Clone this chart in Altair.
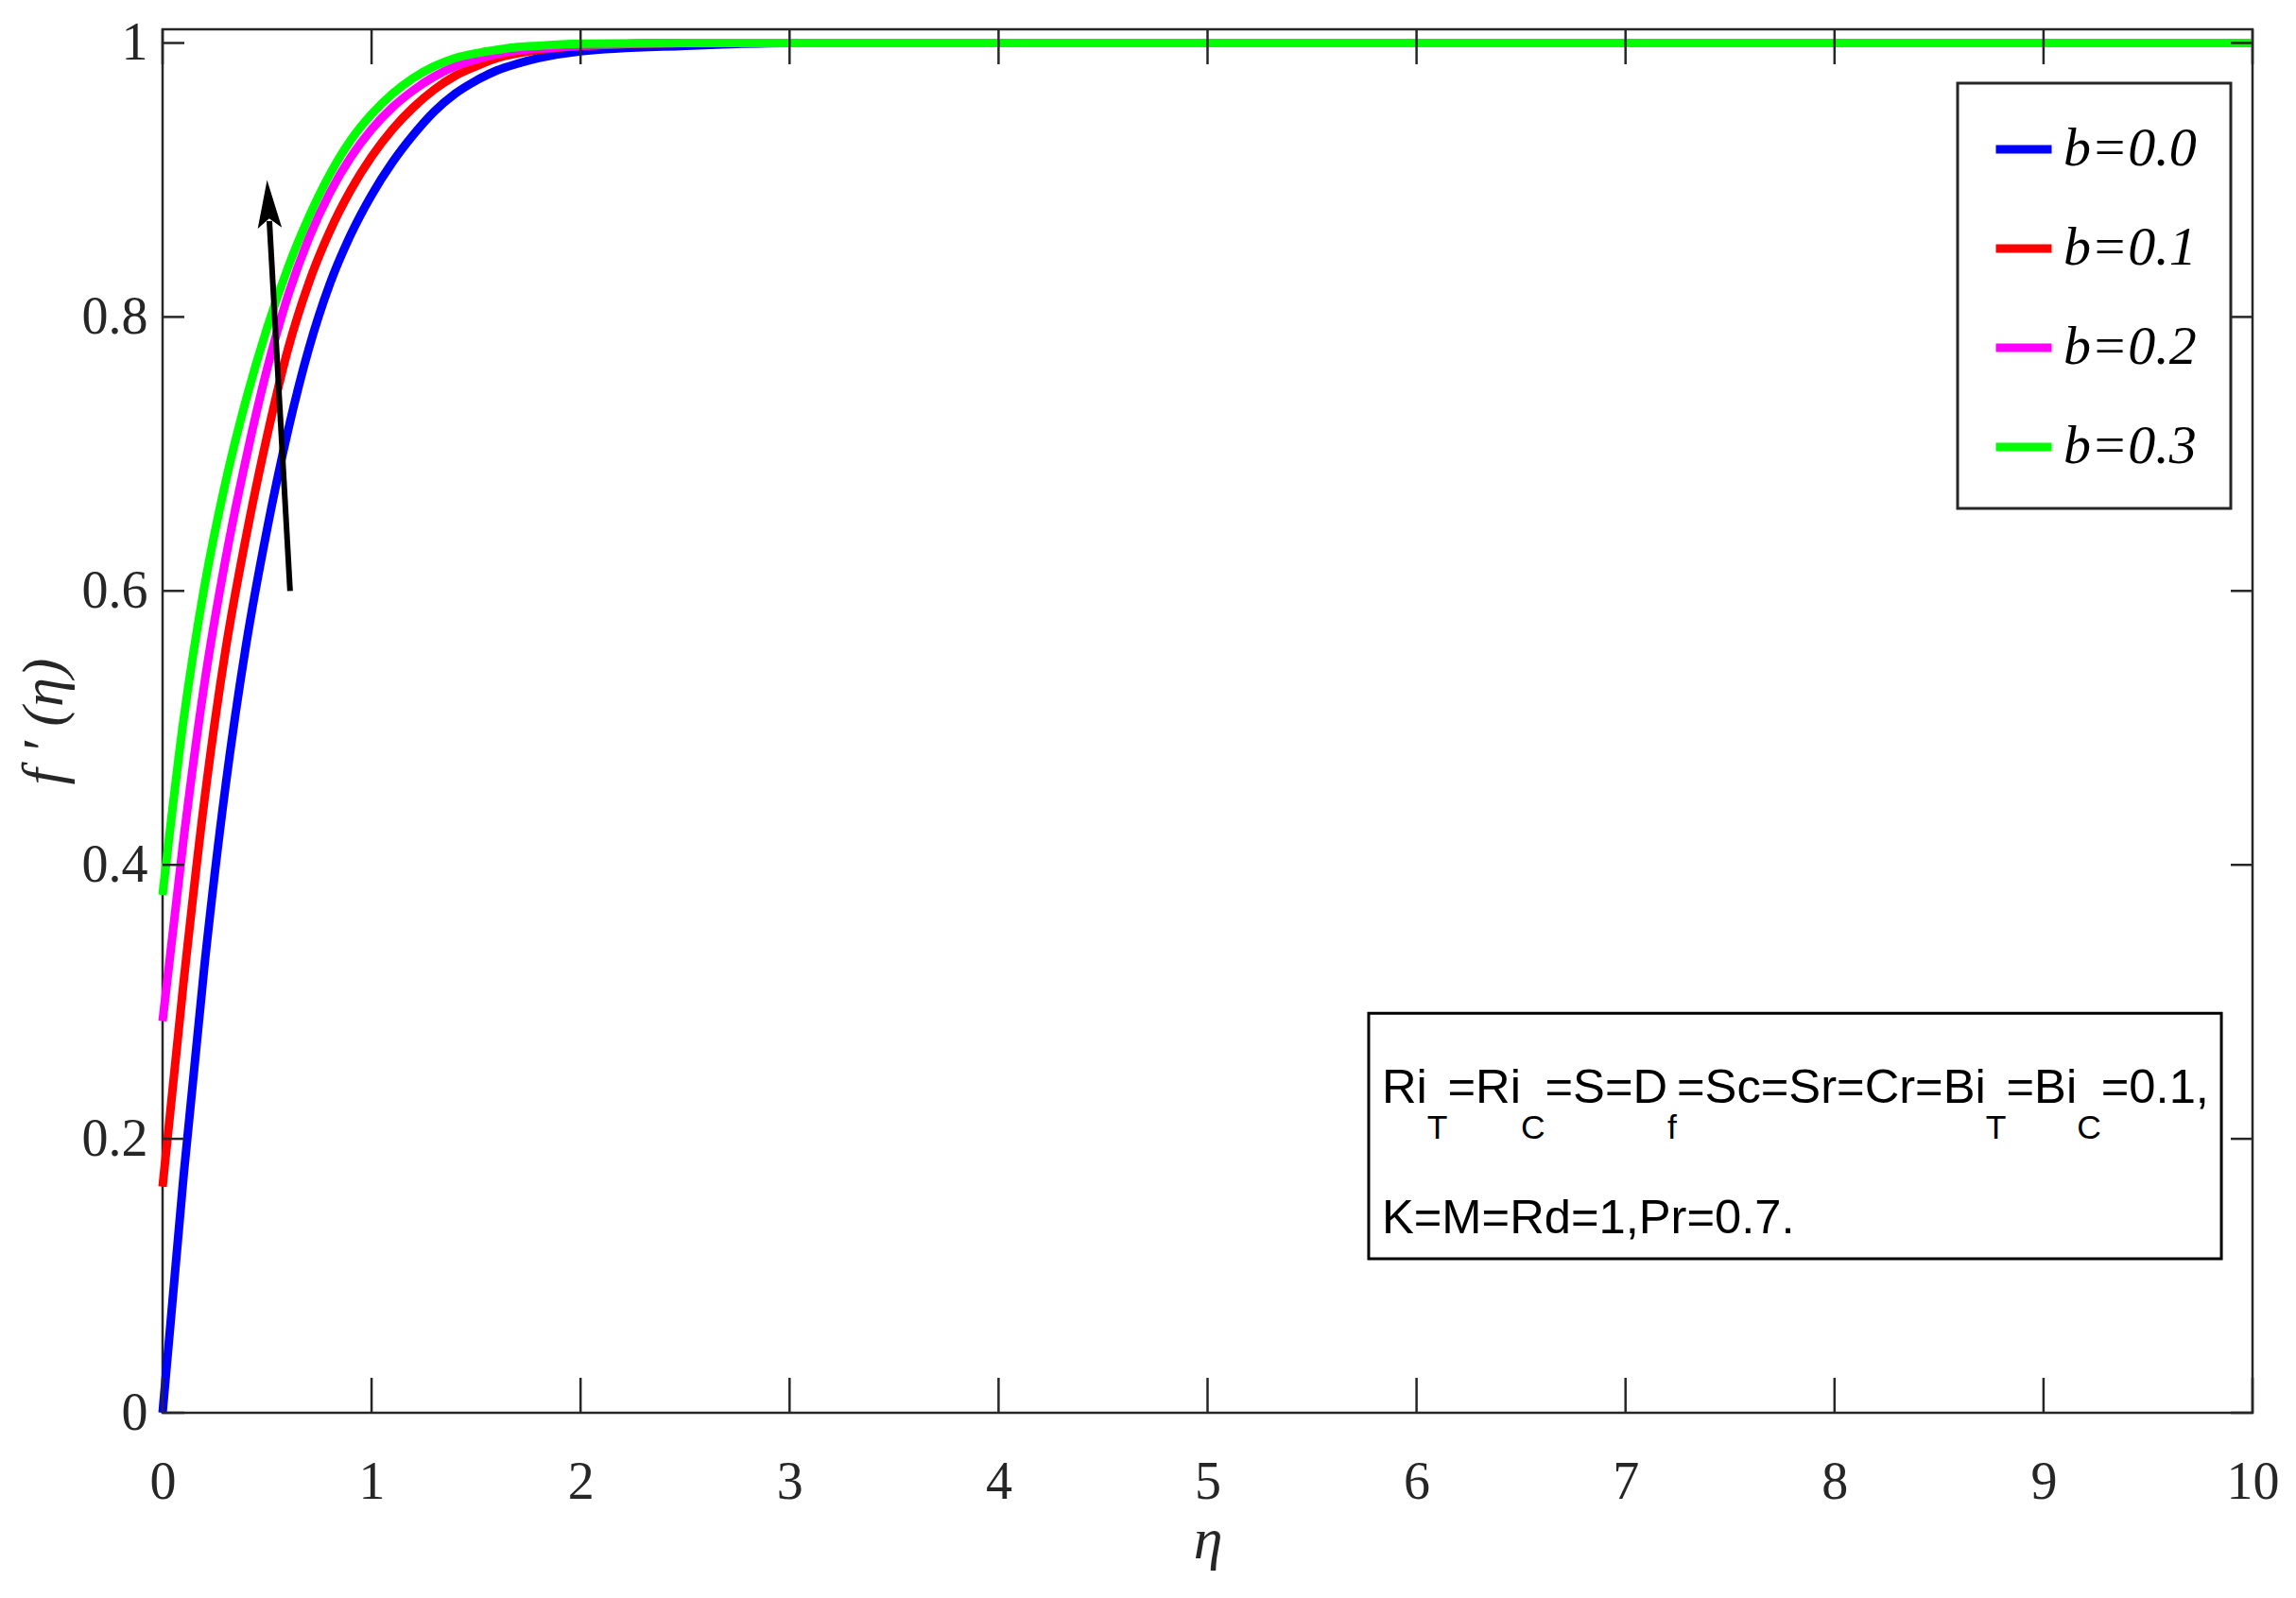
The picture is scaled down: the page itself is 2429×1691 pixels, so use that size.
import glob, os, math
import altair as alt
import pandas as pd

# ---------------- data ----------------
eta = [0.0, 0.1, 0.2, 0.3, 0.4, 0.5, 0.6, 0.7, 0.8, 0.9, 1.0, 1.1, 1.2, 1.3, 1.4, 1.5,
       1.6, 1.7, 1.8, 2.0, 2.5, 3.0, 4.0, 5.0, 6.0, 7.0, 8.0, 9.0, 10.0]
f_b00 = [0.0, 0.172, 0.326, 0.456, 0.561, 0.645, 0.717, 0.777, 0.824, 0.860, 0.889, 0.913,
         0.933, 0.950, 0.963, 0.9725, 0.980, 0.985, 0.989, 0.994, 0.998, 1.0, 1.0, 1.0, 1.0,
         1.0, 1.0, 1.0, 1.0]
f_b01 = [0.165, 0.3135, 0.447, 0.5555, 0.640, 0.713, 0.7765, 0.825, 0.8625, 0.8925, 0.917,
         0.937, 0.953, 0.966, 0.976, 0.983, 0.989, 0.9925, 0.995, 0.998, 1.0, 1.0, 1.0, 1.0,
         1.0, 1.0, 1.0, 1.0, 1.0]
f_b02 = [0.286, 0.418, 0.532, 0.622, 0.697, 0.762, 0.8155, 0.8575, 0.8905, 0.9165, 0.937,
         0.953, 0.9655, 0.9755, 0.983, 0.988, 0.992, 0.9945, 0.996, 0.998, 1.0, 1.0, 1.0,
         1.0, 1.0, 1.0, 1.0, 1.0, 1.0]
f_b03 = [0.378, 0.5055, 0.603, 0.6785, 0.740, 0.792, 0.836, 0.873, 0.904, 0.929, 0.948,
         0.963, 0.9745, 0.983, 0.989, 0.9925, 0.995, 0.997, 0.998, 0.9995, 1.0, 1.0, 1.0,
         1.0, 1.0, 1.0, 1.0, 1.0, 1.0]

series_names = ["b=0.0", "b=0.1", "b=0.2", "b=0.3"]
series_values = [f_b00, f_b01, f_b02, f_b03]
series_colors = ["#0000FF", "#FF0000", "#FF00FF", "#00FF00"]

x_ticks = [0, 1, 2, 3, 4, 5, 6, 7, 8, 9, 10]
y_ticks = [0, 0.2, 0.4, 0.6, 0.8, 1.0]
x_domain = [0, 10]
y_domain = [0, 1.01]

# arrow annotation (data coords)
arrow_tail = (0.61, 0.60)
arrow_tip = (0.50, 0.90)

# parameter text box (data coords)
box_x = [5.771, 9.851]
box_y = [0.1124, 0.2917]
text_start_x = 5.834
line1_y = 0.2262
sub_y = 0.200
line2_y = 0.131
line1_parts = [("Ri", 0), ("T", 1), ("=Ri", 0), ("C", 1), ("=S=D", 0), ("f", 1),
               ("=Sc=Sr=Cr=Bi", 0), ("T", 1), ("=Bi", 0), ("C", 1), ("=0.1,", 0)]
line2_text = "K=M=Rd=1,Pr=0.7."

# ---------------- layout ----------------
W, H = 2211, 1464
AXC = "#262626"
SERIF = "Liberation Serif"


def has_font(pattern):
    dirs = ["/usr/share/fonts", "/usr/local/share/fonts",
            os.path.expanduser("~/.fonts"), os.path.expanduser("~/.local/share/fonts")]
    for d in dirs:
        if glob.glob(os.path.join(d, "**", pattern), recursive=True):
            return True
    return False


NARROW = has_font("LiberationSansNarrow-Regular*")
SANS = "Liberation Sans Narrow" if NARROW else "Liberation Sans"
KW = 0.82 if NARROW else 1.0

ARIAL = {'R': 0.722, 'i': 0.222, '=': 0.584, 'S': 0.667, 'D': 0.722, 'c': 0.5, 'r': 0.333,
         'C': 0.722, 'B': 0.667, '0': 0.556, '.': 0.278, '1': 0.556, ',': 0.278, 'T': 0.611,
         'f': 0.278, 'K': 0.667, 'M': 0.833, 'd': 0.556, 'P': 0.667, '7': 0.556}
SUB_RATIO = 0.7
total_em = sum(sum(ARIAL[c] for c in t) * (SUB_RATIO if s else 1.0) for t, s in line1_parts)
target_px = (box_x[1] - box_x[0]) * W / 10 * 0.97
FS_MAIN = target_px / (total_em * KW)
FS_SUB = FS_MAIN * SUB_RATIO

px_per_x = W / (x_domain[1] - x_domain[0])
px_per_y = H / (y_domain[1] - y_domain[0])

# ---------------- data frames ----------------
rows = []
for name, vals in zip(series_names, series_values):
    for e, v in zip(eta, vals):
        rows.append({"eta": e, "f": v, "series": name})
df = pd.DataFrame(rows)

seg_rows = []
cum = 0.0
for t, s in line1_parts:
    fs = FS_SUB if s else FS_MAIN
    seg_rows.append({"eta": text_start_x + cum / px_per_x, "f": sub_y if s else line1_y,
                     "text": t, "size": fs})
    cum += sum(ARIAL[c] for c in t) * fs * KW
seg_rows.append({"eta": text_start_x, "f": line2_y, "text": line2_text, "size": FS_MAIN})
seg_df = pd.DataFrame(seg_rows)

# arrow
shaft_end = (arrow_tail[0] + 0.9 * (arrow_tip[0] - arrow_tail[0]),
             arrow_tail[1] + 0.9 * (arrow_tip[1] - arrow_tail[1]))
shaft_df = pd.DataFrame({"eta": [arrow_tail[0]], "f": [arrow_tail[1]],
                         "eta2": [shaft_end[0]], "f2": [shaft_end[1]]})
head_df = pd.DataFrame({"eta": [arrow_tip[0]], "f": [arrow_tip[1]]})
dxp = (arrow_tip[0] - arrow_tail[0]) * px_per_x
dyp = (arrow_tip[1] - arrow_tail[1]) * px_per_y
head_angle = (math.degrees(math.atan2(dxp, dyp)) + 360) % 360
HEAD_PATH = "M0,0 L0.5,2 L0,1.6 L-0.5,2 Z"

box_df = pd.DataFrame({"eta": [box_x[0]], "eta2": [box_x[1]], "f": [box_y[0]], "f2": [box_y[1]]})
xt_df = pd.DataFrame({"eta": x_ticks})
yt_df = pd.DataFrame({"f": y_ticks})

# ---------------- scales / axes ----------------
xs = alt.Scale(domain=x_domain, nice=False, zero=False)
ys = alt.Scale(domain=y_domain, nice=False, zero=False)

x_axis = alt.Axis(values=x_ticks, format="d", labelFlush=False, ticks=False, tickSize=0,
                  domain=False, grid=False, labelFont=SERIF, labelFontSize=56,
                  labelColor=AXC, labelPadding=73, labelBaseline="middle",
                  title="η", titleFont=SERIF, titleFontStyle="italic", titleFontWeight="normal",
                  titleFontSize=62, titleColor=AXC, titleX=W / 2, titleY=153,
                  titleAlign="center", titleBaseline="alphabetic")
y_axis = alt.Axis(values=y_ticks, format="~g", labelFlush=False, ticks=False, tickSize=0,
                  domain=False, grid=False, labelFont=SERIF, labelFontSize=56,
                  labelColor=AXC, labelPadding=16,
                  title="f ′ (η)", titleFont=SERIF, titleFontStyle="italic",
                  titleFontWeight="normal", titleFontSize=62, titleColor=AXC,
                  titleAngle=270, titleX=-126, titleY=H / 2, titleAlign="center",
                  titleBaseline="middle")

X = alt.X("eta:Q", scale=xs, axis=x_axis)
Y = alt.Y("f:Q", scale=ys, axis=y_axis)

lines = alt.Chart(df).mark_line(strokeWidth=9, interpolate="monotone").encode(
    x=X, y=Y,
    color=alt.Color("series:N",
                    scale=alt.Scale(domain=series_names, range=series_colors),
                    legend=alt.Legend(title=None, orient="none", legendX=1899, legendY=57,
                                      symbolType="stroke", symbolSize=3481,
                                      symbolStrokeWidth=9, labelFont=SERIF,
                                      labelFontStyle="italic", labelFontSize=58,
                                      labelColor="black", labelOffset=8, labelLimit=400,
                                      padding=36, rowPadding=42, strokeColor=AXC,
                                      fillColor="white")),
)

box = alt.Chart(box_df).mark_rect(fill="white", stroke="black", strokeWidth=3).encode(
    x=X, x2="eta2:Q", y=Y, y2="f2:Q")

texts = alt.Chart(seg_df).mark_text(align="left", baseline="alphabetic", font=SANS,
                                    color="black").encode(
    x=X, y=Y, text="text:N", size=alt.Size("size:Q", scale=None, legend=None))

shaft = alt.Chart(shaft_df).mark_rule(color="black", strokeWidth=6).encode(
    x=X, y=Y, x2="eta2:Q", y2="f2:Q")
head = alt.Chart(head_df).mark_point(shape=HEAD_PATH, filled=True, color="black",
                                     size=2600, angle=head_angle, opacity=1,
                                     strokeWidth=0).encode(x=X, y=Y)

TK = dict(color=AXC, strokeWidth=2.5)
t_bottom = alt.Chart(xt_df).mark_rule(**TK).encode(x=X, y=alt.value(H), y2=alt.value(H - 37))
t_top = alt.Chart(xt_df).mark_rule(**TK).encode(x=X, y=alt.value(0), y2=alt.value(37))
t_left = alt.Chart(yt_df).mark_rule(**TK).encode(y=Y, x=alt.value(0), x2=alt.value(23))
t_right = alt.Chart(yt_df).mark_rule(**TK).encode(y=Y, x=alt.value(W - 23), x2=alt.value(W))

chart = alt.layer(lines, box, texts, shaft, head, t_bottom, t_top, t_left, t_right).properties(
    width=W, height=H,
    autosize=alt.AutoSizeParams(type="none"),
    padding={"left": 164, "top": 23, "right": 30, "bottom": 180},
    background="white",
).configure_view(stroke=AXC, strokeWidth=2.5).configure_legend(strokeWidth=3)

chart.save("out.html", embed_options={"renderer": "svg", "actions": False})
